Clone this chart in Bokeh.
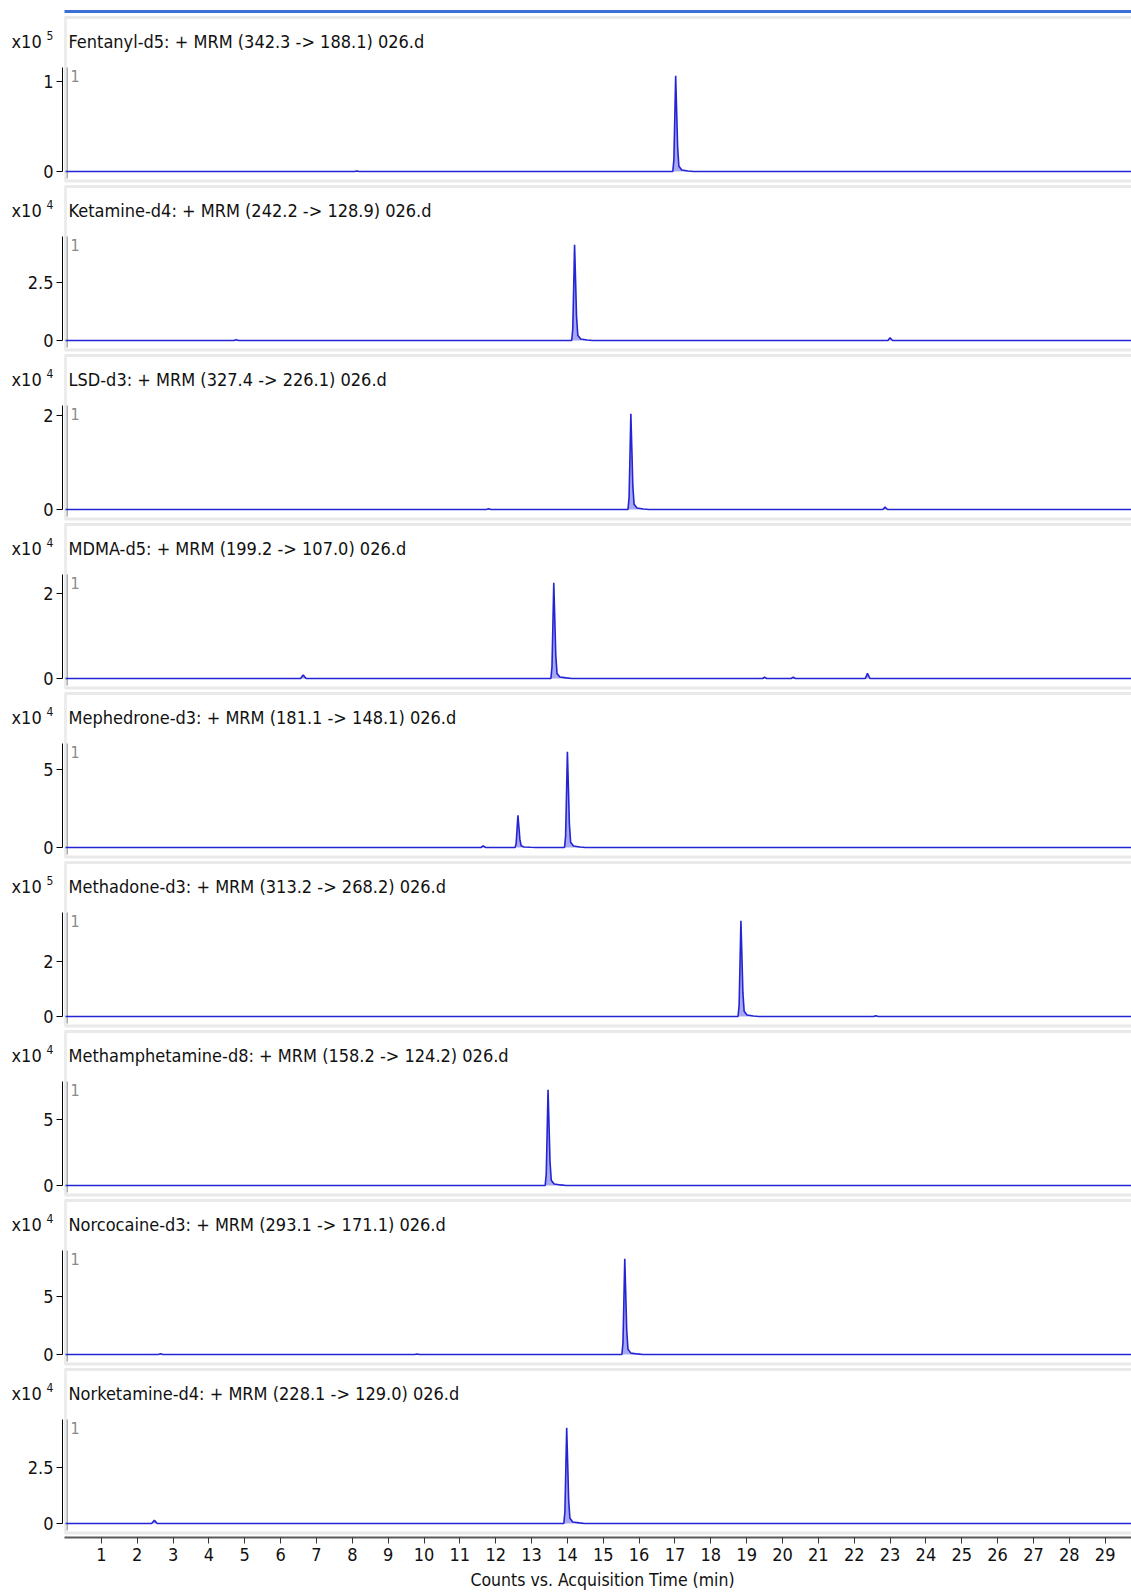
from bokeh.plotting import figure
from bokeh.layouts import column
from bokeh.models import FixedTicker, NumeralTickFormatter, Label, Range1d
from bokeh.embed import file_html
from bokeh.resources import INLINE

# ---------------- data ----------------
titles = [
    "Fentanyl-d5: + MRM (342.3 -> 188.1) 026.d",
    "Ketamine-d4: + MRM (242.2 -> 128.9) 026.d",
    "LSD-d3: + MRM (327.4 -> 226.1) 026.d",
    "MDMA-d5: + MRM (199.2 -> 107.0) 026.d",
    "Mephedrone-d3: + MRM (181.1 -> 148.1) 026.d",
    "Methadone-d3: + MRM (313.2 -> 268.2) 026.d",
    "Methamphetamine-d8: + MRM (158.2 -> 124.2) 026.d",
    "Norcocaine-d3: + MRM (293.1 -> 171.1) 026.d",
    "Norketamine-d4: + MRM (228.1 -> 129.0) 026.d",
]
exponents = [5, 4, 4, 4, 4, 5, 4, 4, 4]
y_ticks = [1, 2.5, 2, 2, 5, 2, 5, 5, 2.5]
x_ticks = list(range(1, 30))

fentanyl_t = [0.0, 8.06, 8.12, 8.19, 16.94, 16.97, 16.995, 17.02, 17.05, 17.075, 17.11, 17.19, 17.37, 17.52, 29.8]
fentanyl_y = [0.0, 0.0, 0.006, 0.0, 0.0, 0.13, 0.59, 1.07, 0.64, 0.27, 0.059, 0.016, 0.006, 0.0, 0.0]

ketamine_t = [0.0, 4.70, 4.76, 4.83, 14.12, 14.15, 14.175, 14.20, 14.23, 14.255, 14.29, 14.37, 14.55, 14.70, 22.94, 23.0, 23.07, 29.8]
ketamine_y = [0.0, 0.0, 0.03, 0.0, 0.0, 0.5, 2.28, 4.15, 2.49, 1.04, 0.23, 0.062, 0.025, 0.0, 0.0, 0.12, 0.0, 0.0]

lsd_t = [0.0, 11.74, 11.80, 11.87, 15.69, 15.72, 15.745, 15.77, 15.80, 15.825, 15.86, 15.94, 16.12, 16.27, 22.80, 22.86, 22.93, 29.8]
lsd_y = [0.0, 0.0, 0.015, 0.0, 0.0, 0.25, 1.13, 2.05, 1.23, 0.51, 0.11, 0.031, 0.012, 0.0, 0.0, 0.05, 0.0, 0.0]

mdma_t = [0.0, 6.56, 6.63, 6.71, 13.54, 13.57, 13.595, 13.62, 13.65, 13.675, 13.71, 13.79, 13.97, 14.12,
          19.44, 19.5, 19.56, 20.24, 20.3, 20.36, 22.31, 22.37, 22.44, 29.8]
mdma_y = [0.0, 0.0, 0.08, 0.0, 0.0, 0.27, 1.24, 2.25, 1.35, 0.56, 0.12, 0.034, 0.014, 0.0,
          0.0, 0.03, 0.0, 0.0, 0.03, 0.0, 0.0, 0.12, 0.0, 0.0]

mephedrone_t = [0.0, 11.59, 11.65, 11.72, 12.54, 12.57, 12.595, 12.62, 12.65, 12.675, 12.71, 12.79, 12.97, 13.12,
                13.92, 13.95, 13.975, 14.0, 14.03, 14.055, 14.09, 14.17, 14.35, 14.5, 29.8]
mephedrone_y = [0.0, 0.0, 0.1, 0.0, 0.0, 0.25, 1.13, 2.06, 1.24, 0.52, 0.11, 0.031, 0.012, 0.0,
                0.0, 0.74, 3.38, 6.15, 3.69, 1.54, 0.34, 0.092, 0.037, 0.0, 0.0]

methadone_t = [0.0, 18.76, 18.79, 18.815, 18.84, 18.87, 18.895, 18.93, 19.01, 19.19, 19.34, 22.54, 22.6, 22.67, 29.8]
methadone_y = [0.0, 0.0, 0.42, 1.93, 3.5, 2.1, 0.88, 0.19, 0.053, 0.021, 0.0, 0.0, 0.03, 0.0, 0.0]

methamphetamine_t = [0.0, 13.38, 13.41, 13.435, 13.46, 13.49, 13.515, 13.55, 13.63, 13.81, 13.96, 29.8]
methamphetamine_y = [0.0, 0.0, 0.87, 3.99, 7.25, 4.35, 1.81, 0.4, 0.11, 0.044, 0.0, 0.0]

norcocaine_t = [0.0, 2.59, 2.65, 2.72, 9.74, 9.8, 9.87, 15.52, 15.55, 15.575, 15.60, 15.63, 15.655, 15.69, 15.77, 15.95, 16.10, 29.8]
norcocaine_y = [0.0, 0.0, 0.06, 0.0, 0.0, 0.04, 0.0, 0.0, 0.99, 4.54, 8.25, 4.95, 2.06, 0.45, 0.12, 0.05, 0.0, 0.0]

norketamine_t = [0.0, 2.40, 2.48, 2.56, 13.90, 13.93, 13.955, 13.98, 14.01, 14.035, 14.07, 14.15, 14.33, 14.48, 29.8]
norketamine_y = [0.0, 0.0, 0.14, 0.0, 0.0, 0.51, 2.34, 4.25, 2.55, 1.06, 0.23, 0.064, 0.026, 0.0, 0.0]

traces = [
    (fentanyl_t, fentanyl_y), (ketamine_t, ketamine_y), (lsd_t, lsd_y),
    (mdma_t, mdma_y), (mephedrone_t, mephedrone_y), (methadone_t, methadone_y),
    (methamphetamine_t, methamphetamine_y), (norcocaine_t, norcocaine_y),
    (norketamine_t, norketamine_y),
]
x_label = "Counts vs. Acquisition Time (min)"

# ---------------- layout / style ----------------
FONT = "'Liberation Sans Narrow', 'Arial Narrow', 'DejaVu Sans Condensed', sans-serif"
W = 1131
AXIS_X = 62         # page x of the y axis line
X0 = 65.0           # page x of t = 0
PXM = 35.85         # px per minute
PITCH = 169
N = len(traces)
TOTAL_H = 1595

def xd(page_x):
    return (page_x - X0) / PXM

x_start = xd(0)
x_end = xd(W)

figs = []
for i, ((t, y), title, ex, tk) in enumerate(zip(traces, titles, exponents, y_ticks)):
    off = PITCH * i
    Z = 171 + off                       # page y of zero
    axis_top = max(y) * 1.085
    s = 104.0 / axis_top                 # px per unit

    def yd(page_y, Z=Z, s=s):
        return (Z - page_y) / s

    last = (i == N - 1)
    top_page = 0 if i == 0 else 14 + off
    bottom_page = TOTAL_H if last else 183 + off
    H = bottom_page - top_page

    p = figure(width=W, height=H,
               x_range=Range1d(x_start, x_end),
               y_range=Range1d(yd(bottom_page), yd(top_page)),
               output_backend="svg", toolbar_location=None,
               min_border_left=0, min_border_right=0,
               min_border_top=0, min_border_bottom=0,
               x_axis_location="below" if last else None,
               outline_line_color=None, title=None,
               background_fill_color="white", border_fill_color="white")
    p.xgrid.visible = False
    p.ygrid.visible = False

    # panel box (light grey frame)
    xr0, xr1 = xd(64), x_end + 1
    p.segment(x0=[xr0, xr0], y0=[yd(17 + off), yd(180.5 + off)],
              x1=[xr1, xr1], y1=[yd(17 + off), yd(180.5 + off)],
              line_color="#e9e9e9", line_width=3)
    p.segment(x0=[xd(65)], y0=[yd(17 + off)], x1=[xd(65)], y1=[yd(180.5 + off)],
              line_color="#ececec", line_width=3)
    p.segment(x0=[xd(66.7)], y0=[yd(67 + off)], x1=[xd(66.7)], y1=[yd(178 + off)],
              line_color="#8c8c8c", line_width=1)
    if i == 0:
        p.segment(x0=[xr0], y0=[yd(11)], x1=[xr1], y1=[yd(11)],
                  line_color="#3a6fd5", line_width=3)

    # chromatogram
    p.varea(x=t, y1=[0.0] * len(t), y2=y, fill_color="#a9a9f2", fill_alpha=1.0)
    p.line(t, y, line_color="#2424d4", line_width=1.6)

    # y axis, placed at a fixed spot left of the panel box
    ax = p.yaxis[0]
    ax.fixed_location = xd(AXIS_X)
    ax.ticker = FixedTicker(ticks=[0, tk])
    ax.formatter = NumeralTickFormatter(format="0.[0]")
    ax.bounds = (0, axis_top)
    ax.axis_line_color = "black"
    ax.axis_line_width = 1
    ax.major_tick_out = 6
    ax.major_tick_in = 0
    ax.minor_tick_out = 0
    ax.minor_tick_in = 0
    ax.major_tick_line_color = "black"
    ax.major_label_text_font = FONT
    ax.major_label_text_font_size = "18px"
    ax.major_label_text_color = "#111111"
    ax.major_label_standoff = 3

    # texts
    p.add_layout(Label(x=xd(68), y=yd(41 + off), text=title, text_font=FONT,
                       text_font_size="18px", text_color="#111111",
                       text_baseline="alphabetic", text_align="left"))
    p.add_layout(Label(x=xd(11), y=yd(41 + off), text="x10", text_font=FONT,
                       text_font_size="18px", text_color="#111111",
                       text_baseline="alphabetic", text_align="left"))
    p.add_layout(Label(x=xd(46), y=yd(35 + off), text=str(ex), text_font=FONT,
                       text_font_size="12px", text_color="#111111",
                       text_baseline="alphabetic", text_align="left"))
    p.add_layout(Label(x=xd(70), y=yd(75 + off), text="1", text_font=FONT,
                       text_font_size="16px", text_color="#8a8a8a",
                       text_baseline="alphabetic", text_align="left"))

    if last:
        xa = p.xaxis[0]
        xa.fixed_location = yd(1537)
        xa.bounds = (xd(64), x_end)
        xa.ticker = FixedTicker(ticks=x_ticks)
        xa.axis_line_color = "#5a5a5a"
        xa.axis_line_width = 2
        xa.major_tick_out = 6
        xa.major_tick_in = 0
        xa.minor_tick_out = 0
        xa.minor_tick_in = 0
        xa.major_tick_line_color = "#333333"
        xa.major_label_text_font = FONT
        xa.major_label_text_font_size = "18px"
        xa.major_label_text_color = "#111111"
        xa.major_label_standoff = 4
        p.add_layout(Label(x=xd(602), y=yd(1579), text=x_label, text_font=FONT,
                           text_font_size="17.5px", text_color="#111111",
                           text_baseline="alphabetic", text_align="center"))
    figs.append(p)

layout = column(*figs, spacing=0)
open("out.html", "w").write(file_html(layout, INLINE, title="MRM chromatograms"))
